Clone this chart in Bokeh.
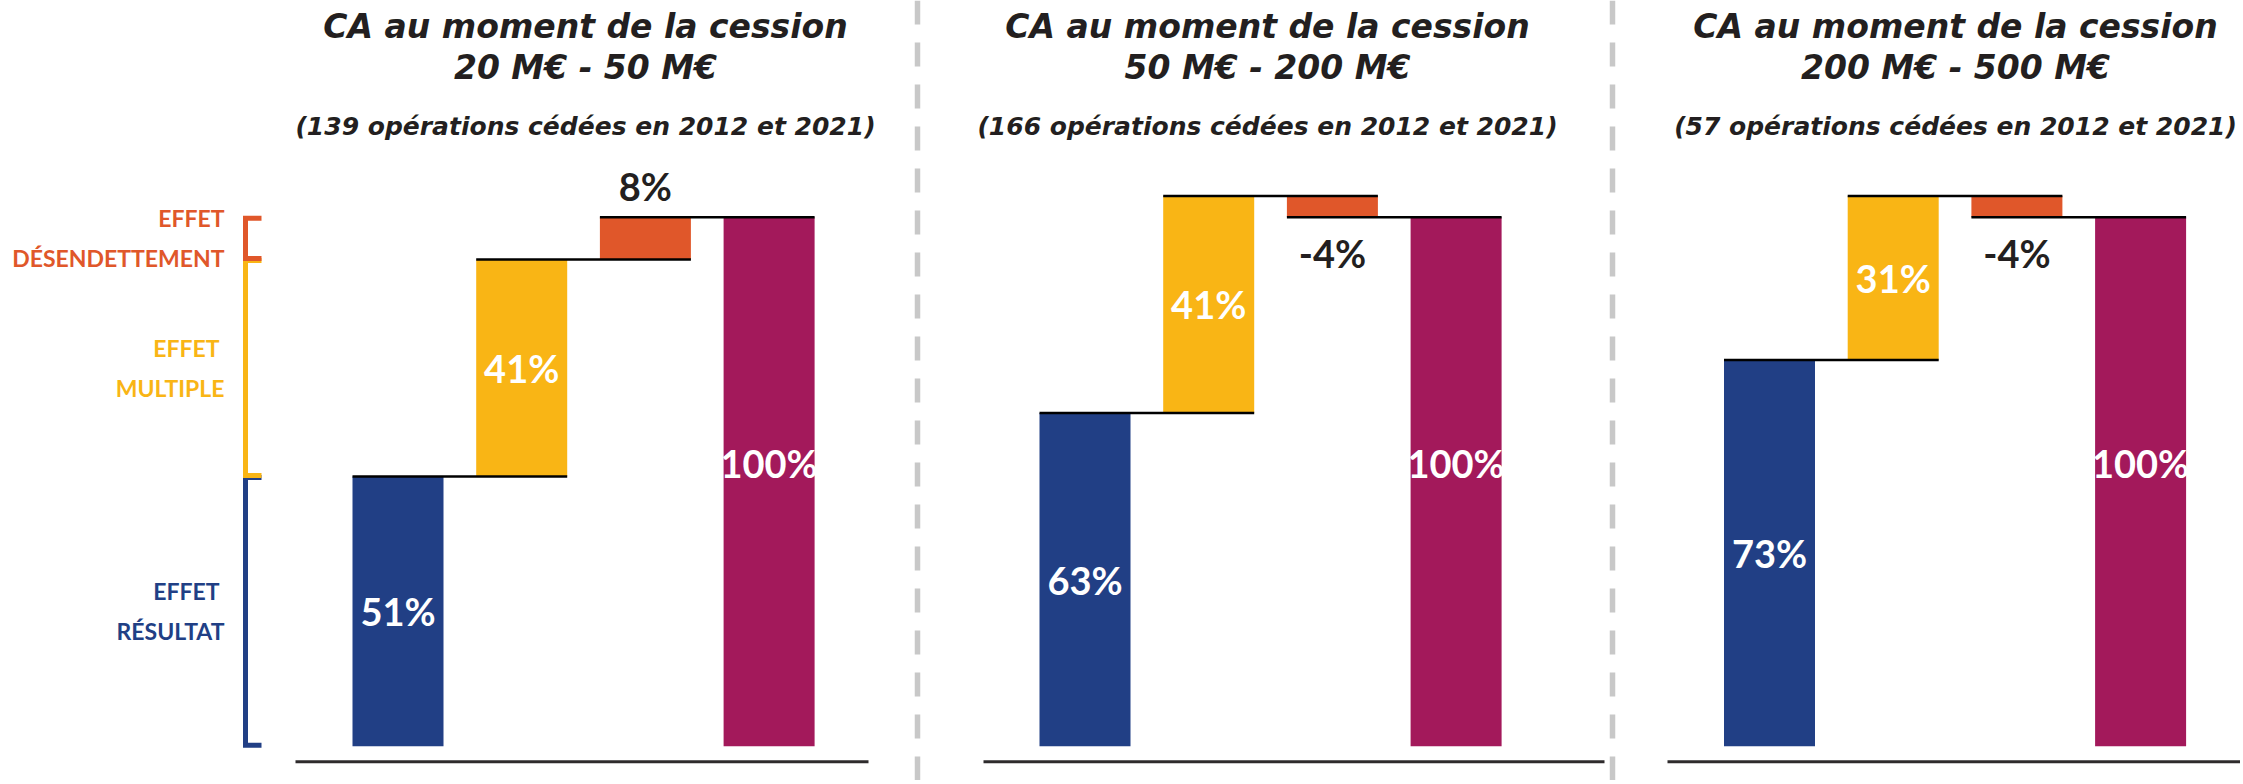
from bokeh.plotting import figure
from bokeh.models import Range1d, Label
from bokeh.core.properties import value
from bokeh.embed import file_html
from bokeh.resources import INLINE

# ---------------- data ----------------
title_line1 = ["CA au moment de la cession", "CA au moment de la cession", "CA au moment de la cession"]
title_line2 = ["20 M€ - 50 M€", "50 M€ - 200 M€", "200 M€ - 500 M€"]
operations = [139, 166, 57]
years = ["2012", "2021"]

effet_resultat = [51, 63, 73]
effet_multiple = [41, 41, 31]
effet_desendettement = [8, -4, -4]
total = [100, 100, 100]

legend_names = [["EFFET\u00a0", "RÉSULTAT"], ["EFFET\u00a0", "MULTIPLE"], ["EFFET", "DÉSENDETTEMENT"]]

# ---------------- style / layout ----------------
C_BLUE = "#213f85"
C_YELLOW = "#f9b515"
C_ORANGE = "#e0572a"
C_PURPLE = "#a3195b"
C_DARK = "#231f20"
C_GREY = "#c8c8c8"

W, H = 2240, 780
PX = 5.29            # pixels per percentage point
ZERO_Y = 745.7       # pixel y (from top) of the 0 level
y_top = ZERO_Y / PX
y_bot = (ZERO_Y - H) / PX

def dy(px):
    return px / PX

first_center = [397.5, 1084.5, 1769.0]
spacing = 123.7
bar_w = 91
base_ext = [(295, 868), (983, 1604), (1667, 2243)]
title_cx = [585, 1267, 1955]
separators = [917, 1612]

p = figure(width=W, height=H, x_range=Range1d(0, W), y_range=Range1d(y_bot, y_top),
           output_backend="svg", toolbar_location=None, x_axis_type=None, y_axis_type=None,
           min_border=0, min_border_left=0, min_border_right=0, min_border_top=0, min_border_bottom=0)
p.outline_line_color = None
p.grid.visible = False
p.background_fill_color = "white"
p.border_fill_color = "white"

LBL_FONT = value("Lato")
TTL_FONT = "DejaVu Sans"

for k in range(3):
    steps = [effet_resultat[k], effet_multiple[k], effet_desendettement[k]]
    colors = [C_BLUE, C_YELLOW, C_ORANGE]
    xs = [first_center[k] + i * spacing for i in range(4)]
    cum = 0
    bottoms, tops = [], []
    for s in steps:
        bottoms.append(cum)
        tops.append(cum + s)
        cum += s
    # bars for the steps
    p.vbar(x=xs[:3], width=bar_w, bottom=[min(b, t) for b, t in zip(bottoms, tops)],
           top=[max(b, t) for b, t in zip(bottoms, tops)], fill_color=colors, line_color=None)
    # total bar
    p.vbar(x=[xs[3]], width=bar_w, bottom=[0], top=[total[k]], fill_color=C_PURPLE, line_color=None)

    # connector lines
    for i in range(3):
        level = tops[i]
        p.line(x=[xs[i] - bar_w / 2, xs[i + 1] + bar_w / 2], y=[level, level],
               line_color="black", line_width=2.5)

    # labels inside bars
    for i in range(2):
        p.text(x=[xs[i]], y=[(bottoms[i] + tops[i]) / 2], text=[f"{steps[i]}%"],
               text_font=LBL_FONT, text_font_style="bold", text_font_size="38px",
               text_color="white", text_align="center", text_baseline="middle")
    # orange label outside
    s = steps[2]
    if s >= 0:
        ly = tops[2] + dy(31)
    else:
        ly = tops[2] - dy(36)
    p.text(x=[xs[2]], y=[ly], text=[f"{s}%"], text_font=LBL_FONT, text_font_style="bold",
           text_font_size="38px", text_color=C_DARK, text_align="center", text_baseline="middle")
    # total label
    p.text(x=[xs[3]], y=[total[k] / 2 + dy(19)], text=[f"{total[k]}%"], text_font=LBL_FONT,
           text_font_style="bold", text_font_size="38px", text_color="white",
           text_align="center", text_baseline="middle")

    # baseline
    x0, x1 = base_ext[k]
    p.line(x=[x0, x1], y=[-dy(15.6), -dy(15.6)], line_color="#2e2b2c", line_width=3)

    # titles
    for txt, py, size in [(title_line1[k], 26, "33px"), (title_line2[k], 67, "33px"),
                          (f"({operations[k]} opérations cédées en {years[0]} et {years[1]})", 126, "25px")]:
        p.add_layout(Label(x=title_cx[k], y=H - py, x_units="data", y_units="screen", text=txt,
                           text_font=TTL_FONT, text_font_style="bold italic", text_font_size=size,
                           text_color=C_DARK, text_align="center", text_baseline="middle"))

# separators
for sx in separators:
    p.line(x=[sx, sx], y=[y_top, y_bot], line_color=C_GREY, line_width=5.5, line_dash="24 18")

# left legend brackets (based on first panel)
steps0 = [effet_resultat[0], effet_multiple[0], effet_desendettement[0]]
seg_colors = [C_BLUE, C_YELLOW, C_ORANGE]
cum = 0
bx, tick_x = 245, 261
for i, s in enumerate(steps0):
    lo, hi = cum, cum + s
    cum += s
    p.line(x=[tick_x, bx, bx, tick_x], y=[hi - dy(1), hi - dy(1), lo + dy(1), lo + dy(1)],
           line_color=seg_colors[i], line_width=5, line_join="miter")
    mid = (lo + hi) / 2
    p.text(x=[224, 224], y=[mid + dy(20), mid - dy(20)], text=legend_names[i],
           text_font=LBL_FONT, text_font_style="bold", text_font_size="23px",
           text_color=seg_colors[i], text_align="right", text_baseline="middle")

open("out.html", "w").write(file_html(p, INLINE))
